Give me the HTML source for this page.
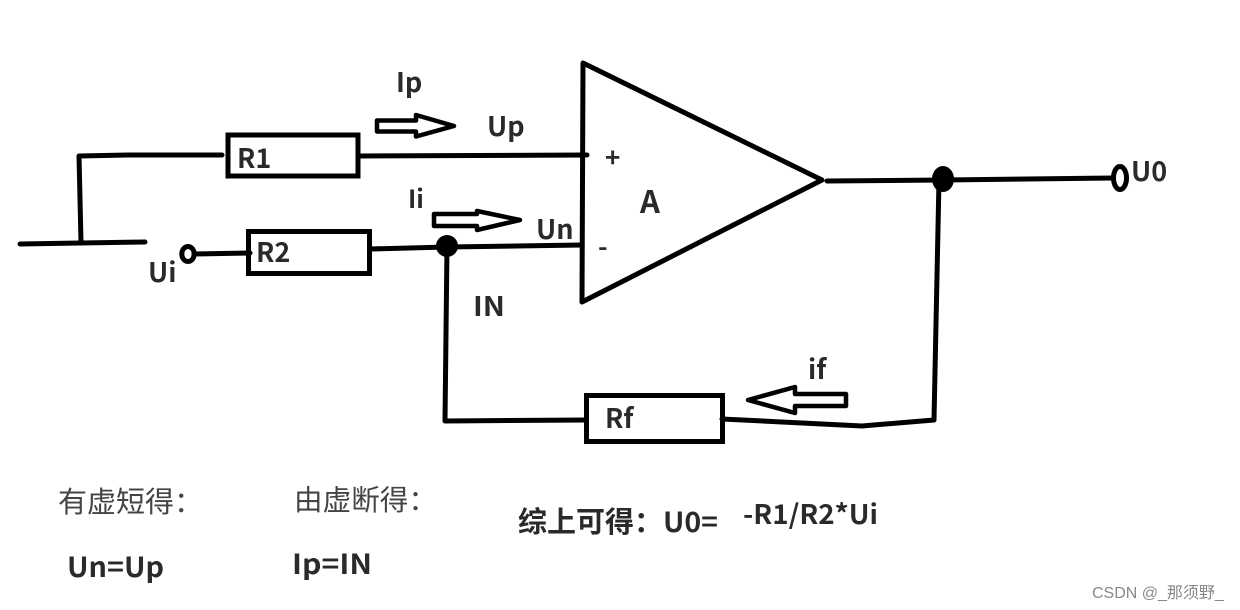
<!DOCTYPE html>
<html>
<head>
<meta charset="utf-8">
<style>
html,body{margin:0;padding:0;background:#fff;}
svg{display:block;}
text{font-family:"Noto Sans CJK SC","Liberation Sans",sans-serif;fill:#2a2a2a;}
.b{font-weight:bold;font-size:27px;}
.r{font-weight:normal;font-size:29px;fill:#444;}
</style>
</head>
<body>
<svg width="1240" height="610" viewBox="0 0 1240 610" xmlns="http://www.w3.org/2000/svg">
<g fill="none" stroke="#000" stroke-width="5" stroke-linecap="round" stroke-linejoin="round">
<polygon points="583,63 822,180 582,302"/>
<g stroke-linejoin="miter">
<rect x="228" y="135" width="130" height="41"/>
<rect x="248.5" y="231.5" width="121" height="42"/>
<rect x="586.5" y="395.5" width="136" height="46"/>
</g>
<polyline points="20,244 80,243 145,242"/>
<polyline points="81,242 79,156 130,155 222,155"/>
<polyline points="358,156 587,155"/>
<polyline points="194,254 250,253"/>
<polyline points="370,249 447,247 582,245"/>
<polyline points="447,246 445,421 586,420"/>
<polyline points="722,419 862,426 934,420 939,180"/>
<polyline points="827,181 943,180 1113,178"/>
<ellipse cx="188" cy="254" rx="6.2" ry="7.5"/>
<ellipse cx="1120" cy="178" rx="6.5" ry="11.5"/>
<polygon points="377,120.5 416,120.5 416,115 454,126 416,136.5 416,131.5 377,131.5" stroke-width="4.5"/>
<polygon points="434,214 477,214 477,211 520,220 477,230 477,226 434,226" stroke-width="4.5"/>
<polygon points="748,400 795,387 795,394 846,394 846,406 795,406 795,413" stroke-width="4.5"/>
</g>
<ellipse cx="447" cy="246" rx="11" ry="11" fill="#000"/>
<ellipse cx="943" cy="179" rx="11" ry="13" fill="#000"/>
<text class="b" x="396" y="92">Ip</text>
<text class="b" x="487" y="136">Up</text>
<text class="b" x="237" y="168">R1</text>
<text class="b" x="256" y="262">R2</text>
<text class="b" x="605" y="167" style="font-size:26px">+</text>
<text class="b" x="598" y="256" style="font-size:26px">-</text>
<text class="b" x="640" y="213" style="font-size:31px">A</text>
<text class="b" x="408" y="208" style="font-size:25px">Ii</text>
<text class="b" x="536" y="239">Un</text>
<text class="b" x="148" y="282">Ui</text>
<text class="b" x="473" y="316" textLength="32" lengthAdjust="spacingAndGlyphs">IN</text>
<text class="b" x="808" y="379">if</text>
<text class="b" x="605" y="428">Rf</text>
<text class="b" x="1131" y="181">U0</text>
<text class="r" x="58" y="512">有虚短得：</text>
<text class="r" x="294" y="510" style="font-size:28.6px">由虚断得：</text>
<text class="b" x="518" y="532" style="font-size:29px">综上可得：</text>
<text class="b" x="663" y="532" style="font-size:28px" textLength="55" lengthAdjust="spacingAndGlyphs">U0=</text>
<text class="b" x="743" y="524" textLength="135" lengthAdjust="spacingAndGlyphs">-R1/R2*Ui</text>
<text class="b" x="67" y="577" style="font-size:28px" textLength="97" lengthAdjust="spacingAndGlyphs">Un=Up</text>
<text class="b" x="292" y="574" style="font-size:28px" textLength="80" lengthAdjust="spacingAndGlyphs">Ip=IN</text>
<text x="1092" y="598" style="font-family:'Liberation Sans','Noto Sans CJK SC',sans-serif;font-size:16px;fill:#888">CSDN @_那须野_</text>
</svg>
</body>
</html>
